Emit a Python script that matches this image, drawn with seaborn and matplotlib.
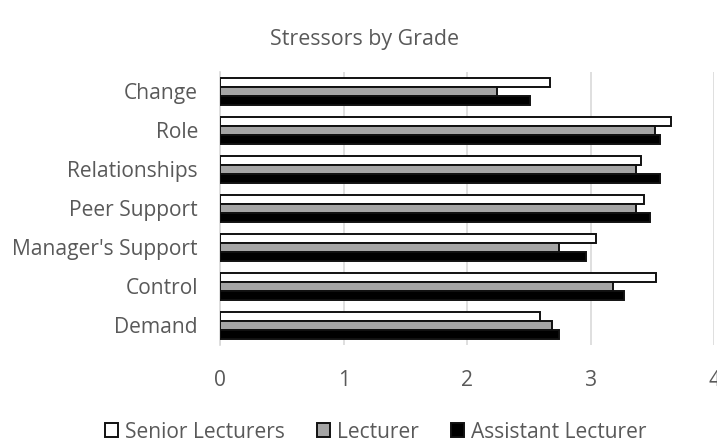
import pandas as pd
import matplotlib.pyplot as plt
import seaborn as sns

# values
categories = ['Change', 'Role', 'Relationships', 'Peer Support',
              "Manager's Support", 'Control', 'Demand']
series = ['Senior Lecturers', 'Lecturer', 'Assistant Lecturer']
senior = [2.67, 3.65, 3.41, 3.43, 3.04, 3.53, 2.59]
lecturer = [2.24, 3.52, 3.37, 3.37, 2.74, 3.18, 2.69]
assistant = [2.51, 3.56, 3.56, 3.48, 2.96, 3.27, 2.74]
colors = ['#FFFFFF', '#A5A5A5', '#000000']

if __name__ == '__main__':
    sns.set_style('white')
    plt.rcParams['font.family'] = ['Open Sans', 'DejaVu Sans']
    text_color = '#595959'
    fs = 15.1

    df = pd.DataFrame({
        'Stressor': categories * 3,
        'Grade': [s for s in series for _ in categories],
        'Score': senior + lecturer + assistant,
    })

    fig = plt.figure(figsize=(7.17, 4.44), dpi=100)
    ax = fig.add_axes([0.307, 0.223, 0.689, 0.615])

    sns.barplot(data=df, y='Stressor', x='Score', hue='Grade',
                order=categories, hue_order=series,
                palette=colors, orient='h', width=0.67,
                edgecolor='#111111', linewidth=1.4, ax=ax, zorder=3)

    ax.set_xlim(0, 4)
    ax.set_ylim(6.5, -0.5)
    ax.set_xticks([0, 1, 2, 3, 4])
    ax.set_xlabel('')
    ax.set_ylabel('')
    ax.grid(axis='x', color='#D9D9D9', linewidth=1.2, zorder=0)
    ax.grid(axis='y', visible=False)
    for s in ['top', 'right', 'bottom']:
        ax.spines[s].set_visible(False)
    ax.spines['left'].set_color('#D9D9D9')
    ax.spines['left'].set_linewidth(1.2)

    ax.tick_params(axis='y', length=0, pad=16, labelsize=fs, labelcolor=text_color)
    ax.tick_params(axis='x', length=0, pad=18, labelsize=fs, labelcolor=text_color)

    fig.text(0.508, 0.912, 'Stressors by Grade', ha='center', va='center',
             fontsize=fs + 0.3, color=text_color)

    sns.move_legend(ax, 'center', bbox_to_anchor=(0.524, 0.027),
                    bbox_transform=fig.transFigure, ncol=3, frameon=False,
                    title=None, fontsize=fs, handlelength=0.65, handleheight=0.65,
                    handletextpad=0.33, columnspacing=1.5, labelcolor=text_color)

    fig.savefig('out.png', dpi=100)
